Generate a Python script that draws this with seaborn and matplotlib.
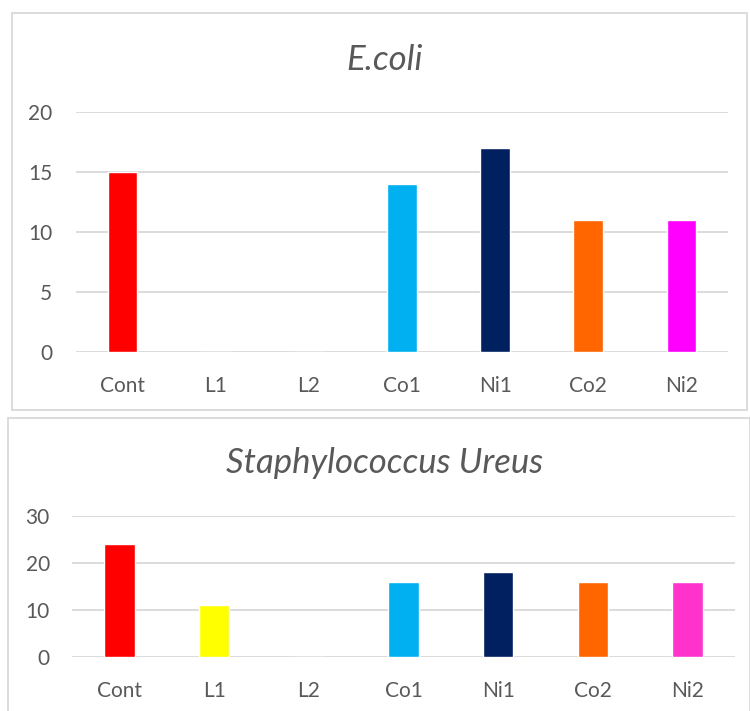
import matplotlib
matplotlib.use("Agg")
import matplotlib.pyplot as plt
from matplotlib.patches import Rectangle
import seaborn as sns
import pandas as pd

categories = ["Cont", "L1", "L2", "Co1", "Ni1", "Co2", "Ni2"]
ecoli_values = [15, 0, 0, 14, 17, 11, 11]
staph_values = [24, 11, 0, 16, 18, 16, 16]
ecoli_colors = ["#FF0000", "#FFFF00", "#A5A5A5", "#00B0F0", "#002060", "#FF6600", "#FF00FF"]
staph_colors = ["#FF0000", "#FFFF00", "#A5A5A5", "#00B0F0", "#002060", "#FF6600", "#FF33CC"]
ecoli_ticks = [0, 5, 10, 15, 20]
staph_ticks = [0, 10, 20, 30]

sns.set_theme(style="white")
plt.rcParams["font.family"] = ["Lato", "DejaVu Sans"]

W, H = 750, 711
fig = plt.figure(figsize=(W / 100, H / 100), dpi=100)


def fx(px):
    return px / W


def fy(py):
    return 1 - py / H


# panel frames
fig.patches.append(Rectangle((fx(12), fy(410)), fx(735), fy(13) - fy(410),
                             transform=fig.transFigure, fill=False,
                             edgecolor="#D9D9D9", linewidth=1.3))
fig.patches.append(Rectangle((fx(8), fy(712)), fx(742), fy(418) - fy(712),
                             transform=fig.transFigure, fill=False,
                             edgecolor="#D9D9D9", linewidth=1.3))


def panel(rect, values, colors, ticks, title, title_y, ypad, xpad):
    ax = fig.add_axes(rect)
    df = pd.DataFrame({"cat": categories, "val": values})
    sns.barplot(data=df, x="cat", y="val", hue="cat", palette=colors,
                dodge=False, legend=False, width=0.32, ax=ax, saturation=1)
    ax.set_ylim(ticks[0], ticks[-1])
    ax.set_yticks(ticks)
    ax.set_xlim(-0.5, len(categories) - 0.5)
    ax.yaxis.grid(True, color="#D9D9D9", linewidth=1.3)
    ax.set_axisbelow(True)
    for s in ax.spines.values():
        s.set_visible(False)
    ax.tick_params(axis="both", length=0, labelsize=15, labelcolor="#595959")
    ax.tick_params(axis="y", pad=ypad)
    ax.tick_params(axis="x", pad=xpad)
    ax.set_xlabel("")
    ax.set_ylabel("")
    fig.text(fx(385), fy(title_y), title, ha="center", va="center",
             fontsize=25, style="italic", color="#595959")
    return ax


panel([fx(76), fy(352), fx(652), fy(112) - fy(352)], ecoli_values,
      ecoli_colors, ecoli_ticks, "E.coli", 60, 17, 17)
panel([fx(72), fy(657.3), fx(663), fy(515.7) - fy(657.3)], staph_values,
      staph_colors, staph_ticks, "Staphylococcus Ureus", 463, 16, 17)

fig.savefig("out.png", dpi=100)
